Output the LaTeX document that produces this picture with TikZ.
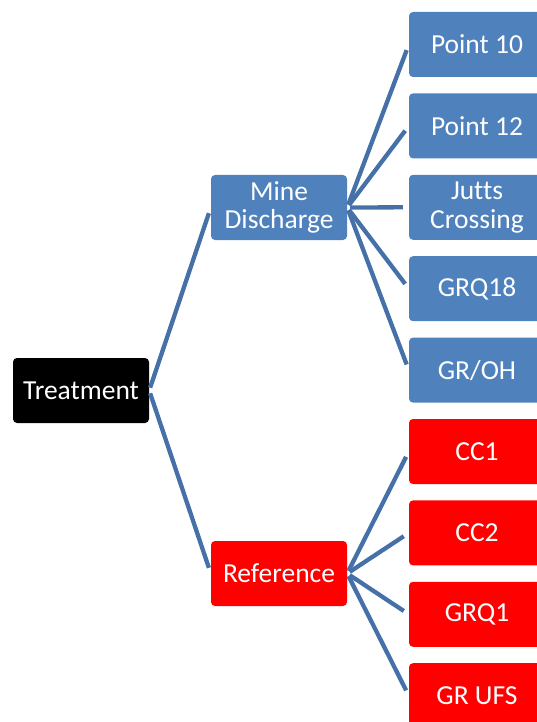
\documentclass[tikz,border=0pt]{standalone}
\usepackage{fontspec}
\setmainfont{Carlito}[Ligatures=NoCommon]
\usepackage{tikz}
\usetikzlibrary{positioning}

\definecolor{boxblue}{RGB}{79,129,189}
\definecolor{linkblue}{RGB}{70,113,168}
\definecolor{boxred}{RGB}{255,0,0}

\begin{document}
\begin{tikzpicture}[
	x=1pt, y=1pt,
	basenode/.style={rectangle, rounded corners=4pt, text=white, minimum width=136pt, minimum height=65pt, inner sep=0pt, align=center, font=\fontsize{27.5}{28.5}\selectfont},
	rootnode/.style={basenode, fill=black},
	bluenode/.style={basenode, fill=boxblue},
	rednode/.style={basenode, fill=boxred},
	link/.style={draw=linkblue, line width=4.3pt, shorten <=3pt, shorten >=6pt},
	]
	\useasboundingbox (0,0) rectangle (537,-722);
	\clip (0,0) rectangle (537,-722);
	
	%Nodes
	\node[rootnode] (Treatment) at (81,-390.5) {Treatment};
	\node[bluenode] (MineDischarge) at (279,-207.5) {Mine\\Discharge};
	\node[rednode] (Reference) at (279,-573.5) {Reference};
	\node[bluenode] (Point10) at (477,-44.5) {Point 10};
	\node[bluenode] (Point12) [below=16pt of Point10] {Point 12};
	\node[bluenode] (Jutts) [below=16pt of Point12] {Jutts\\Crossing};
	\node[bluenode] (GRQ18) [below=16pt of Jutts] {GRQ18};
	\node[bluenode] (GROH) [below=16pt of GRQ18] {GR/OH};
	\node[rednode] (CC1) [below=16pt of GROH] {CC1};
	\node[rednode] (CC2) [below=16pt of CC1] {CC2};
	\node[rednode] (GRQ1) [below=16pt of CC2] {GRQ1};
	\node[rednode] (GRUFS) [below=16pt of GRQ1] {GR UFS};
	
	%Lines
	\draw[link] (Treatment.east) -- (MineDischarge.west);
	\draw[link] (Treatment.east) -- (Reference.west);
	\draw[link] (MineDischarge.east) -- (Point10.west);
	\draw[link] (MineDischarge.east) -- (Point12.west);
	\draw[link] (MineDischarge.east) -- (Jutts.west);
	\draw[link] (MineDischarge.east) -- (GRQ18.west);
	\draw[link] (MineDischarge.east) -- (GROH.west);
	\draw[link] (Reference.east) -- (CC1.west);
	\draw[link] (Reference.east) -- (CC2.west);
	\draw[link] (Reference.east) -- (GRQ1.west);
	\draw[link] (Reference.east) -- (GRUFS.west);
	
\end{tikzpicture}
\end{document}
